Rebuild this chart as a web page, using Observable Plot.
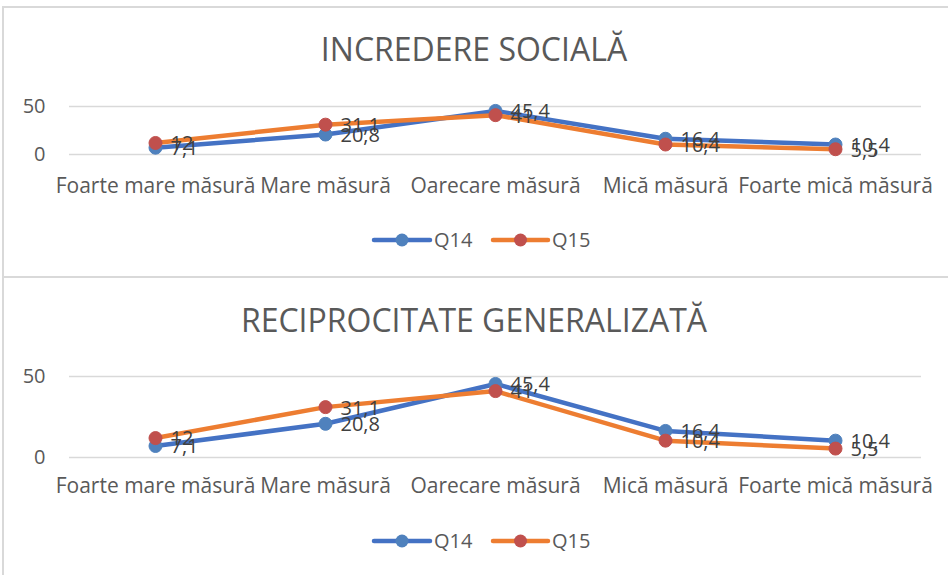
<!DOCTYPE html>
<html>
<head>
<meta charset="utf-8">
<script src="https://cdn.jsdelivr.net/npm/d3@7"></script>
<script src="https://cdn.jsdelivr.net/npm/@observablehq/plot@0.6"></script>
<style>
  html, body { margin: 0; padding: 0; background: #fff; }
  body { width: 948px; height: 575px; position: relative; overflow: hidden; font-family: "Open Sans", sans-serif; }
  .panel { position: absolute; left: 2px; width: 1000px; border-top: 2px solid #d9d9d9; border-left: 2px solid #d9d9d9; box-sizing: border-box; }
  .title { position: absolute; left: 0; width: 948px; text-align: center; font-size: 32px; line-height: 32px; color: #595959; white-space: nowrap; }
  .chart { position: absolute; left: 0; }
  .legend { position: absolute; left: 0; width: 948px; height: 30px; }
</style>
</head>
<body>
<div class="panel" style="top:6px;height:272px;"></div>
<div class="panel" style="top:276px;height:400px;"></div>
<div id="root"></div>
<script>
const categories = ["Foarte mare măsură", "Mare măsură", "Oarecare măsură", "Mică măsură", "Foarte mică măsură"];
const seriesNames = ["Q14", "Q15"];
const titles = ["INCREDERE SOCIALĂ", "RECIPROCITATE GENERALIZATĂ"];
const trustQ14 = [7.1, 20.8, 45.4, 16.4, 10.4];
const trustQ15 = [12, 31.1, 41, 10.4, 5.5];
const recipQ14 = [7.1, 20.8, 45.4, 16.4, 10.4];
const recipQ15 = [12, 31.1, 41, 10.4, 5.5];
const yTicks = [0, 50];

const lineColors = ["#4472C4", "#ED7D31"];
const dotColors = ["#4F81BD", "#C0504D"];
const fmt = v => String(v).replace(".", ",");

function makePlot(q14, q15, height, marginBottom, tickPad) {
  const d14 = categories.map((c, i) => ({cat: c, v: q14[i], s: seriesNames[0]}));
  const d15 = categories.map((c, i) => ({cat: c, v: q15[i], s: seriesNames[1]}));
  const labelOpts = () => ({x: "cat", y: "v", text: d => fmt(d.v), dx: 15, dy: 1, textAnchor: "start", fill: "#404040", fontSize: 20});
  return Plot.plot({
    width: 948,
    height,
    marginTop: 16,
    marginBottom,
    marginLeft: 69,
    marginRight: 27,
    x: {type: "point", domain: categories, padding: 0.5},
    y: {domain: [0, 50]},
    style: {fontFamily: "Open Sans", fontSize: "20px", color: "#595959", background: "transparent", overflow: "visible"},
    marks: [
      Plot.ruleY(yTicks, {stroke: "#d9d9d9", strokeWidth: 1.5}),
      Plot.axisY({ticks: yTicks, tickSize: 0, tickPadding: 24, fontSize: 20, fill: "#595959", label: null, tickFormat: d => String(d)}),
      Plot.axisX({tickSize: 0, tickPadding: tickPad, fontSize: 21, fill: "#595959", label: null}),
      Plot.line(d14, {x: "cat", y: "v", stroke: lineColors[0], strokeWidth: 4.5, strokeLinejoin: "round", strokeLinecap: "round"}),
      Plot.dot(d14, {x: "cat", y: "v", r: 6.5, fill: dotColors[0], stroke: dotColors[0], strokeWidth: 1}),
      Plot.line(d15, {x: "cat", y: "v", stroke: lineColors[1], strokeWidth: 4.5, strokeLinejoin: "round", strokeLinecap: "round"}),
      Plot.dot(d15, {x: "cat", y: "v", r: 6.5, fill: dotColors[1], stroke: dotColors[1], strokeWidth: 1}),
      Plot.text(d14, labelOpts()),
      Plot.text(d15, labelOpts())
    ]
  });
}

function makeLegend(top) {
  const svg = d3.create("svg").attr("class", "legend").attr("width", 948).attr("height", 30).style("top", top + "px");
  const items = [
    {x0: 374, x1: 430, tx: 434},
    {x0: 493, x1: 548, tx: 552}
  ];
  items.forEach((it, i) => {
    const g = svg.append("g");
    g.append("line").attr("x1", it.x0).attr("x2", it.x1).attr("y1", 15).attr("y2", 15)
      .attr("stroke", lineColors[i]).attr("stroke-width", 4.5).attr("stroke-linecap", "round");
    g.append("circle").attr("cx", (it.x0 + it.x1) / 2).attr("cy", 15).attr("r", 6.5).attr("fill", dotColors[i]);
    g.append("text").attr("x", it.tx).attr("y", 15).attr("dy", "0.35em").attr("font-size", 20)
      .attr("font-family", "Open Sans").attr("fill", "#595959").text(seriesNames[i]);
  });
  return svg.node();
}

const root = document.getElementById("root");
function addTitle(text, baseline) {
  const div = document.createElement("div");
  div.className = "title";
  div.textContent = text;
  div.style.top = (baseline - 28.4) + "px";
  root.appendChild(div);
}

addTitle(titles[0], 61);
const p1 = makePlot(trustQ14, trustQ15, 120, 56, 24);
p1.classList.add("chart");
p1.style.position = "absolute";
p1.style.top = "90px";
root.appendChild(p1);
root.appendChild(makeLegend(225));

addTitle(titles[1], 332);
const p2 = makePlot(recipQ14, recipQ15, 150, 53, 21);
p2.style.position = "absolute";
p2.style.left = "0px";
p2.style.top = "360px";
root.appendChild(p2);
root.appendChild(makeLegend(526));
</script>
</body>
</html>
